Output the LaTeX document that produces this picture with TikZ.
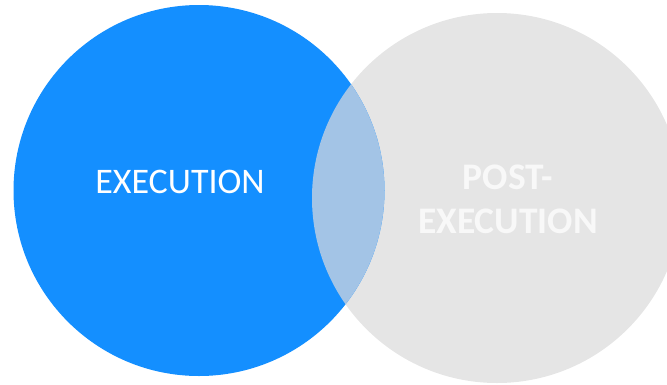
\documentclass[tikz,border=0pt]{standalone}
\usepackage{fontspec}
\setmainfont{Carlito}
\definecolor{exblue}{HTML}{148FFF}
\definecolor{exgray}{HTML}{E5E5E5}
\definecolor{exlens}{HTML}{A3C4E6}
\definecolor{extext}{HTML}{F8F8F8}
\begin{document}
\begin{tikzpicture}[x=1pt,y=-1pt,
  venn/.style={draw=none},
  lbl/.style={font=\fontsize{36}{45}\selectfont, align=center, inner sep=0pt},
  boldlbl/.style={lbl, text=extext, font=\fontsize{37.5}{45}\selectfont\bfseries, anchor=base}]
\useasboundingbox (0,0) rectangle (667,384);
\fill[exgray, venn] (497,198) circle (185);
\fill[exblue, venn] (199,190.5) circle (185.5);
\begin{scope}
  \clip (199,190.5) circle (185.5);
  \fill[exlens] (497,198) circle (185);
\end{scope}
\node[lbl, text=white, anchor=base] (ex) at (180,193) {EXECUTION};
\node[boldlbl] (post) at (508,189) {POST-};
\node[boldlbl] (postex) at (508,233.5) {EXECUTION};
\end{tikzpicture}
\end{document}
